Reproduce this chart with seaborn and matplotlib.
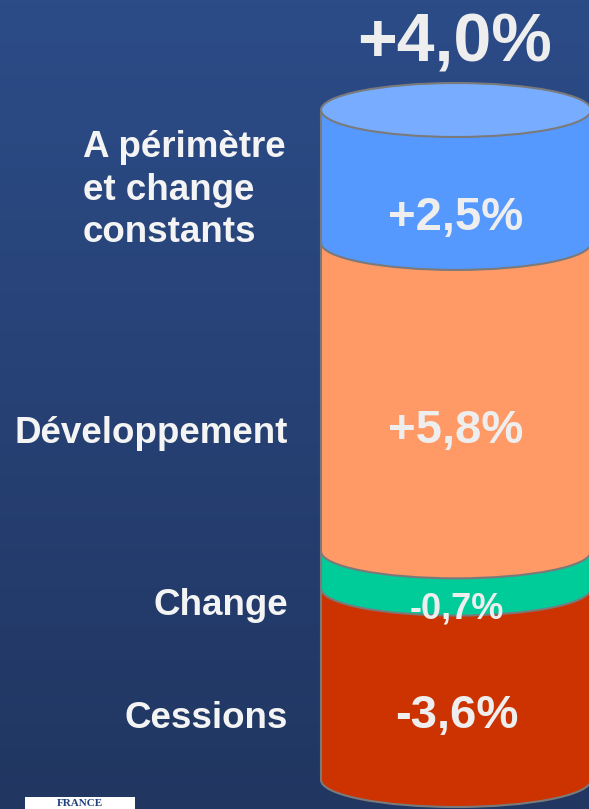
# -*- coding: utf-8 -*-
"""
Décomposition de la croissance - cylindre empilé
"""
import numpy as np
import pandas as pd
import matplotlib
matplotlib.use('Agg')
import matplotlib.pyplot as plt
import seaborn as sns
from matplotlib.patches import Ellipse, Arc, Rectangle
from matplotlib.colors import LinearSegmentedColormap

# ------------------------------------------------------ #
# DONNÉES
# ------------------------------------------------------ #
segments = ['Cessions', 'Change', 'Développement', 'A périmètre\net change\nconstants']
values = [-3.6, -0.7, 5.8, 2.5]
value_labels = ['-3,6%', '-0,7%', '+5,8%', '+2,5%']
total_label = '+4,0%'
colors = ['#cc3300', '#00cc99', '#ff9966', '#5599ff']
cap_color = '#78acfe'
edge_color = '#7a7a7a'
text_color = '#eeeeee'

# ------------------------------------------------------ #
# MISE EN PAGE (pixels de la figure 589x809)
# ------------------------------------------------------ #
W, H = 589, 809
CYL_LEFT, CYL_WIDTH = 321, 270      # bord gauche et largeur du cylindre
CYL_BOTTOM, CYL_TOP = 780, 110      # centre des ellipses bas / haut
ELL_PX = 54                         # hauteur des ellipses

value_pos = [(457, 728, 34), (457, 618, 26), (456, 443, 34), (456, 230, 34)]
total_pos = (455, 62, 49)
label_right = 288
label_base = [728, 615, 443]
multi_left, multi_base = 83, [157, 200, 242]
LABEL_SIZE = 26.5


def fx(px):
    return px / W


def fy(py):
    return 1 - py / H


heights = np.abs(values)
cum = np.cumsum(heights)
bottoms = cum - heights
px_unit = (CYL_BOTTOM - CYL_TOP) / cum[-1]
ell_h = ELL_PX / px_unit

sns.set_theme(style='white')
plt.rcParams['font.family'] = ['Liberation Sans', 'DejaVu Sans']

fig = plt.figure(figsize=(W / 100, H / 100), dpi=100)

# fond dégradé
bg = fig.add_axes([0, 0, 1, 1], zorder=-1)
cmap = LinearSegmentedColormap.from_list('fond', ['#2c4c88', '#213661'])
bg.imshow(np.linspace(0, 1, 256)[:, None], aspect='auto', cmap=cmap,
          extent=(0, 1, 0, 1))
bg.axis('off')

ax = fig.add_axes([0, 0, 1, 1])
ax.set_facecolor('none')

# corps du cylindre : barres cumulées superposées
df = pd.DataFrame({'bloc': 'total', 'segment': segments, 'cumul': cum, 'couleur': colors})
for i in range(len(df) - 1, -1, -1):
    row = df.iloc[[i]]
    sns.barplot(data=row, x='bloc', y='cumul', color=row['couleur'].iloc[0],
                width=1, saturation=1, errorbar=None, linewidth=0, ax=ax, zorder=1)

# frontières elliptiques
for i in range(len(df)):
    ax.add_patch(Ellipse((0, bottoms[i]), 1, ell_h, facecolor=colors[i],
                         edgecolor='none', zorder=2))
    ax.add_patch(Arc((0, bottoms[i]), 1, ell_h, theta1=180, theta2=360,
                     color=edge_color, lw=1.5, zorder=3))
ax.vlines([-0.5, 0.5], 0, cum[-1], color=edge_color, lw=1.5, zorder=3)
ax.add_patch(Ellipse((0, cum[-1]), 1, ell_h, facecolor=cap_color,
                     edgecolor=edge_color, lw=1.5, zorder=4))

ax.set_xlim(-0.5 - CYL_LEFT / CYL_WIDTH, -0.5 + (W - CYL_LEFT) / CYL_WIDTH)
ax.set_ylim(-(H - CYL_BOTTOM) / px_unit, CYL_BOTTOM / px_unit)
ax.axis('off')

# ------------------------------------------------------ #
# TEXTES
# ------------------------------------------------------ #
for lab, (x, y, s) in zip(value_labels, value_pos):
    fig.text(fx(x), fy(y), lab, ha='center', va='baseline', fontsize=s,
             fontweight='bold', color=text_color)
fig.text(fx(total_pos[0]), fy(total_pos[1]), total_label, ha='center',
         va='baseline', fontsize=total_pos[2], fontweight='bold', color=text_color)

for lab, y in zip(segments[:3], label_base):
    fig.text(fx(label_right), fy(y), lab, ha='right', va='baseline',
             fontsize=LABEL_SIZE, fontweight='bold', color='#f4f4f4')
for line, y in zip(segments[3].split('\n'), multi_base):
    fig.text(fx(multi_left), fy(y), line, ha='left', va='baseline',
             fontsize=LABEL_SIZE, fontweight='bold', color='#f4f4f4')

# logo en bas à gauche
fig.patches.append(Rectangle((fx(25), 0), fx(110), 12 / H, transform=fig.transFigure,
                             facecolor='white', edgecolor='none'))
fig.text(fx(80), fy(808), 'FRANCE', ha='center', va='bottom', fontsize=8,
         fontweight='bold', family='Liberation Serif', color='#1f3f80')

fig.savefig('out.png', dpi=100)
